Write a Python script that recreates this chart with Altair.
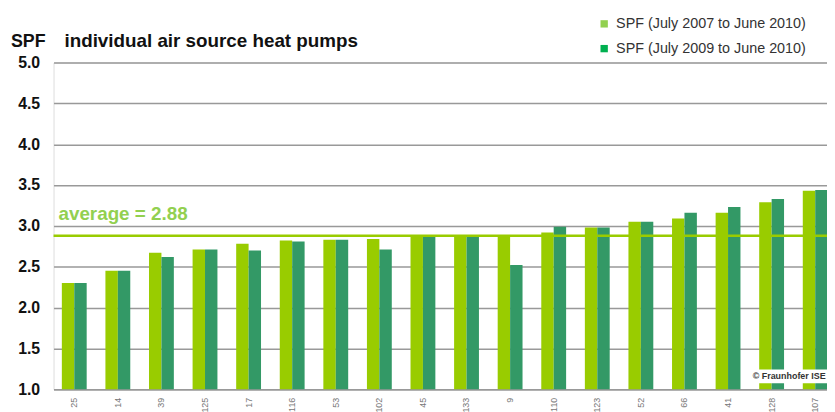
import altair as alt
import pandas as pd

ids = ["25", "14", "39", "125", "17", "116", "53", "102", "45", "133",
       "9", "110", "123", "52", "66", "41", "128", "107"]
spf_0710 = [2.30, 2.45, 2.67, 2.71, 2.78, 2.82, 2.83, 2.84, 2.87, 2.87,
            2.88, 2.92, 2.98, 3.05, 3.09, 3.16, 3.29, 3.43]
spf_0910 = [2.30, 2.45, 2.62, 2.71, 2.70, 2.81, 2.83, 2.71, 2.87, 2.87,
            2.52, 2.99, 2.98, 3.05, 3.16, 3.23, 3.33, 3.44]
periods = ["SPF (July 2007 to June 2010)", "SPF (July 2009 to June 2010)"]
bar_colors = ["#99CC00", "#339966"]
legend_colors = ["#92D050", "#00B050"]
average = 2.88
y_ticks = [1.0, 1.5, 2.0, 2.5, 3.0, 3.5, 4.0, 4.5, 5.0]

rows = []
for i, pid in enumerate(ids):
    rows.append({"id": pid, "period": periods[0], "value": spf_0710[i]})
    rows.append({"id": pid, "period": periods[1], "value": spf_0910[i]})
df = pd.DataFrame(rows)

W, H = 790, 330
FONT = "Liberation Sans"

bars = alt.Chart(df).mark_bar().encode(
    x=alt.X("id:N", sort=ids,
            scale=alt.Scale(paddingInner=0.43, paddingOuter=0.19),
            axis=alt.Axis(title=None, labelAngle=-90, labelFontSize=9,
                          labelColor="#777777", labelPadding=8, ticks=False,
                          domain=True, domainColor="#999999", domainWidth=1.5,
                          grid=False, labelFont=FONT)),
    xOffset=alt.XOffset("period:N", sort=periods,
                        scale=alt.Scale(paddingInner=0, paddingOuter=0)),
    y=alt.Y("value:Q", scale=alt.Scale(domain=[1, 5], zero=False, nice=False),
            axis=alt.Axis(title=None, values=y_ticks, format=".1f",
                          labelFontSize=16, labelFontWeight="bold",
                          labelColor="#111111", labelPadding=14, ticks=False,
                          domain=False, grid=True, gridColor="#999999",
                          gridWidth=1.5, labelFont=FONT)),
    y2=alt.datum(1),
    color=alt.Color("period:N", scale=alt.Scale(domain=periods, range=bar_colors),
                    legend=None),
)

avg_df = pd.DataFrame({"avg": [average], "label": [f"average = {average:.2f}"]})
avg_rule = alt.Chart(avg_df).mark_rule(color="#99CC00", strokeWidth=2.5).encode(
    y="avg:Q", x=alt.value(0), x2=alt.value(W)
)
avg_text = alt.Chart(avg_df).mark_text(
    align="left", baseline="alphabetic", fontSize=19, fontWeight="bold",
    color="#92D050", font=FONT
).encode(text="label:N", x=alt.value(5), y=alt.value(159))

title_df = pd.DataFrame({"t1": ["SPF"], "t2": ["individual air source heat pumps"],
                         "c": ["© Fraunhofer ISE"]})
t1 = alt.Chart(title_df).mark_text(
    align="left", baseline="alphabetic", fontSize=18, fontWeight="bold",
    color="#111111", font=FONT
).encode(text="t1:N", x=alt.value(-43), y=alt.value(-16))
t2 = alt.Chart(title_df).mark_text(
    align="left", baseline="alphabetic", fontSize=19, fontWeight="bold",
    color="#111111", font=FONT
).encode(text="t2:N", x=alt.value(11), y=alt.value(-16))

copy_bg = alt.Chart(title_df).mark_rect(color="white").encode(
    x=alt.value(703), x2=alt.value(781), y=alt.value(310), y2=alt.value(324)
)
copy_txt = alt.Chart(title_df).mark_text(
    align="left", baseline="middle", fontSize=9, fontWeight="bold",
    color="#333333", font=FONT
).encode(text="c:N", x=alt.value(706), y=alt.value(317))

legend_layers = []
for k, (lab, col) in enumerate(zip(periods, legend_colors)):
    ldf = pd.DataFrame({"label": [lab]})
    yy = -39 + 25 * k
    legend_layers.append(
        alt.Chart(ldf).mark_square(size=55, color=col, opacity=1).encode(
            x=alt.value(556), y=alt.value(yy))
    )
    legend_layers.append(
        alt.Chart(ldf).mark_text(align="left", baseline="middle", fontSize=14.5,
                                 color="#333333", font=FONT).encode(
            text="label:N", x=alt.value(568), y=alt.value(yy))
    )

chart = alt.layer(bars, avg_rule, avg_text, copy_bg, copy_txt, t1, t2,
                  *legend_layers).properties(
    width=W, height=H,
    autosize=alt.AutoSizeParams(type="none"),
    padding={"left": 46, "top": 53, "right": -9, "bottom": 30},
).configure_view(stroke=None).configure(font=FONT)

chart.save("out.html", embed_options={"renderer": "svg", "actions": False})
